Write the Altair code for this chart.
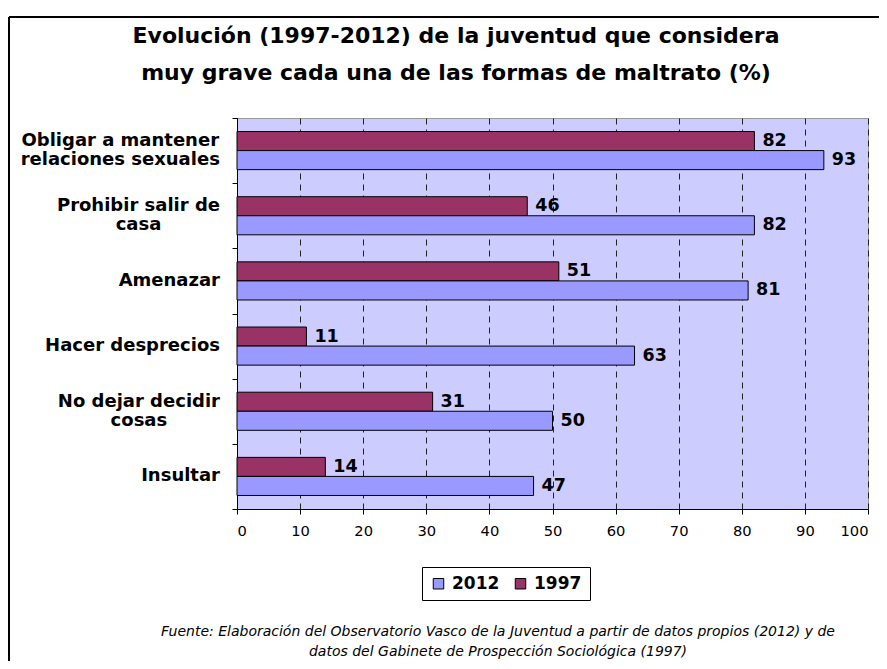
import altair as alt
import pandas as pd

# ---------------- data ----------------
CATEGORIES = [
    "Obligar a mantener|relaciones sexuales",
    "Prohibir salir de|casa",
    "Amenazar",
    "Hacer desprecios",
    "No dejar decidir|cosas",
    "Insultar",
]
VALUES_2012 = [93, 82, 81, 63, 50, 47]
VALUES_1997 = [82, 46, 51, 11, 31, 14]
SERIES = ["2012", "1997"]
COLORS = ["#9999FF", "#993366"]
X_TICKS = [0, 10, 20, 30, 40, 50, 60, 70, 80, 90, 100]
TITLE = "Evolución (1997-2012) de la juventud que considera\nmuy grave cada una de las formas de maltrato (%)"
SOURCE = ("Fuente: Elaboración del Observatorio Vasco de la Juventud a partir de datos propios (2012) y de\n"
          "datos del Gabinete de Prospección Sociológica (1997)")

rows = []
for cat, v12, v97 in zip(CATEGORIES, VALUES_2012, VALUES_1997):
    rows.append({"cat": cat, "serie": "1997", "valor": v97})
    rows.append({"cat": cat, "serie": "2012", "valor": v12})
df = pd.DataFrame(rows)

FONT = "DejaVu Sans"
CAT_FONT_SIZE = 18
LABEL_RIGHT = -17  # right edge of the category label block, px from the axis

# approximate DejaVu Sans Bold advance widths (per 1000 em) to centre
# the lines of a two-line category label inside its block (as Excel does)
_W = {" ": 348, "a": 675, "b": 716, "c": 593, "d": 716, "e": 678, "f": 435,
      "g": 716, "h": 712, "i": 343, "j": 343, "k": 665, "l": 343, "m": 1042,
      "n": 712, "o": 687, "p": 716, "q": 716, "r": 493, "s": 595, "t": 478,
      "u": 712, "v": 652, "w": 924, "x": 663, "y": 652, "z": 582,
      "O": 850, "P": 733, "N": 837, "A": 774, "H": 837, "I": 372}


def text_width(s, size):
    return sum(_W.get(ch, 650) for ch in s) * size / 1000.0


yoff_enc = alt.YOffset(
    "serie:N",
    sort=["1997", "2012"],
    scale=alt.Scale(paddingInner=0, paddingOuter=0.71),
)

y_enc = alt.Y(
    "cat:N",
    sort=CATEGORIES,
    scale=alt.Scale(paddingInner=0, paddingOuter=0),
    axis=alt.Axis(
        title=None,
        labels=False,
        tickBand="extent",
        tickSize=5,
        tickColor="black",
        domainColor="black",
    ),
)
x_enc = alt.X(
    "valor:Q",
    scale=alt.Scale(domain=[0, 100], nice=False),
    axis=alt.Axis(
        title=None,
        values=X_TICKS,
        grid=True,
        gridColor="#222222",
        gridDash=[6, 5],
        gridWidth=1,
        tickSize=5,
        tickColor="black",
        domainColor="black",
        labelFont=FONT,
        labelFontSize=14.7,
        labelColor="black",
        labelPadding=9,
    ),
)
color_enc = alt.Color(
    "serie:N",
    scale=alt.Scale(domain=SERIES, range=COLORS),
    legend=alt.Legend(
        title=None,
        orient="none",
        legendX=185,
        legendY=449,
        direction="horizontal",
        strokeColor="black",
        fillColor="white",
        padding=8,
        symbolType="square",
        symbolSize=110,
        symbolStrokeColor="black",
        symbolStrokeWidth=1,
        symbolOpacity=1,
        labelFont=FONT,
        labelFontSize=17,
        labelFontWeight="bold",
        labelColor="black",
        labelOffset=5,
        columnPadding=12,
    ),
)

bars = alt.Chart(df).mark_bar(stroke="black", strokeWidth=1, opacity=1).encode(
    x=x_enc, y=y_enc, yOffset=yoff_enc, color=color_enc
)

labels = alt.Chart(df).mark_text(
    align="left", baseline="middle", dx=8, font=FONT, fontSize=17.5,
    fontWeight="bold", color="black"
).encode(
    x=alt.X("valor:Q"), y=alt.Y("cat:N", sort=CATEGORIES), yOffset=yoff_enc,
    text=alt.Text("valor:Q"),
)

# category labels: single-line right-aligned, two-line centred in a
# right-aligned block, one line per bar row
cat_layers = []
single_rows = [{"cat": c, "linea": c} for c in CATEGORIES if "|" not in c]
cat_layers.append(
    alt.Chart(pd.DataFrame(single_rows)).mark_text(
        align="right", baseline="middle", font=FONT, fontSize=CAT_FONT_SIZE,
        fontWeight="bold", color="black"
    ).encode(y=alt.Y("cat:N", sort=CATEGORIES), x=alt.value(LABEL_RIGHT),
             text="linea:N")
)
for c in CATEGORIES:
    if "|" not in c:
        continue
    l1, l2 = c.split("|")
    block = max(text_width(l1, CAT_FONT_SIZE), text_width(l2, CAT_FONT_SIZE))
    dd = pd.DataFrame([{"cat": c, "serie": "1997", "linea": l1},
                       {"cat": c, "serie": "2012", "linea": l2}])
    cat_layers.append(
        alt.Chart(dd).mark_text(
            align="center", baseline="middle", font=FONT,
            fontSize=CAT_FONT_SIZE, fontWeight="bold", color="black"
        ).encode(y=alt.Y("cat:N", sort=CATEGORIES), yOffset=yoff_enc,
                 x=alt.value(LABEL_RIGHT - block / 2.0), text="linea:N")
    )

one = pd.DataFrame({"k": [0]})

title_mark = alt.Chart(pd.DataFrame({"t": [TITLE]})).mark_text(
    align="center", baseline="top", lineBreak="\n", lineHeight=37,
    font=FONT, fontSize=22, fontWeight="bold", color="black"
).encode(text="t:N", x=alt.value(219), y=alt.value(-92))

source_mark = alt.Chart(pd.DataFrame({"t": [SOURCE]})).mark_text(
    align="center", baseline="top", lineBreak="\n", lineHeight=20,
    font=FONT, fontSize=14, fontStyle="italic", color="black"
).encode(text="t:N", x=alt.value(261), y=alt.value(507))

frame_top = alt.Chart(one).mark_rule(color="black", strokeWidth=2).encode(
    x=alt.value(-228), x2=alt.value(700), y=alt.value(-101)
)
frame_left = alt.Chart(one).mark_rule(color="black", strokeWidth=2).encode(
    x=alt.value(-228), y=alt.value(-101), y2=alt.value(700)
)

chart = alt.layer(
    frame_top, frame_left, bars, labels, *cat_layers,
    title_mark, source_mark
).properties(
    width=631,
    height=391,
    autosize=alt.AutoSizeParams(type="none"),
    padding={"left": 229, "top": 110, "right": 11, "bottom": 152},
    background="white",
).configure(
    font=FONT,
    view=alt.ViewConfig(fill="#CCCCFF", stroke="#999999", strokeWidth=1),
)

chart.save("out.html", embed_options={"renderer": "svg", "actions": False})
